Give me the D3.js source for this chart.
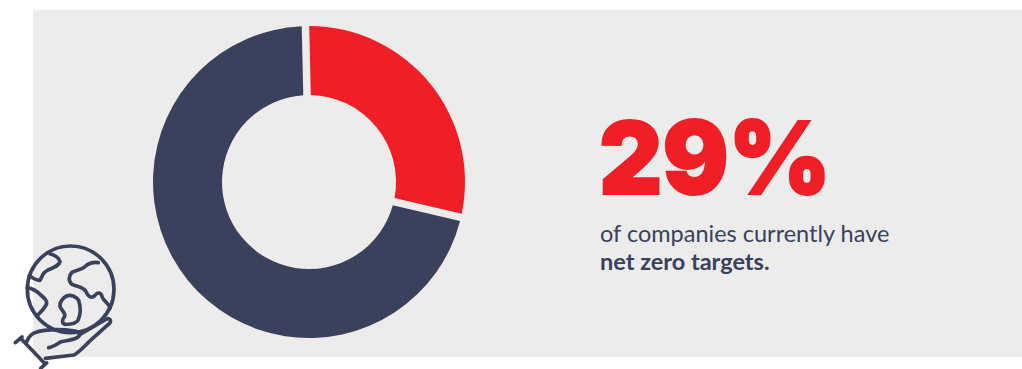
<!DOCTYPE html>
<html>
<head>
<meta charset="utf-8">
<script src="https://cdn.jsdelivr.net/npm/d3@7/dist/d3.min.js"></script>
<style>
  html, body { margin: 0; padding: 0; background: #fff; }
  svg { display: block; }
</style>
</head>
<body>
<svg id="chart" width="1022" height="369"></svg>
<script>
// Share of companies with and without net zero targets
const categories = ["With net zero targets", "Without net zero targets"];
const shares = [29, 71];
const sliceColors = ["#f01f27", "#3a415c"];

const headline = "29%";
const captionLead = "of companies currently have";
const captionBold = "net zero targets.";

const svg = d3.select("#chart");
const navy = "#3a415c";

svg.append("rect").attr("x", 33).attr("y", 10).attr("width", 989).attr("height", 347).attr("fill", "#ececec");

const cx = 309, cy = 182, outer = 156, inner = 87;
const donut = svg.append("g").attr("transform", `translate(${cx},${cy})`);

// Faint halo that sits behind the ring
donut.append("path")
  .attr("d", d3.arc()({ innerRadius: inner - 7, outerRadius: outer + 7, startAngle: 0, endAngle: 2 * Math.PI }))
  .attr("fill", "#eeecea");

const tilt = -1.3 * Math.PI / 180;
const pie = d3.pie().sort(null).startAngle(tilt).endAngle(tilt + 2 * Math.PI);
const arc = d3.arc().innerRadius(inner).outerRadius(outer).padRadius(outer).padAngle(7.5 / outer);

donut.selectAll("path.slice")
  .data(pie(shares))
  .join("path")
  .attr("class", "slice")
  .attr("d", arc)
  .attr("fill", (d, i) => sliceColors[i])
  .append("title").text((d, i) => `${categories[i]}: ${d.value}%`);

// Headline figure and caption
svg.append("text")
  .attr("x", 599).attr("y", 194)
  .attr("font-family", "Inter, 'Open Sans', sans-serif")
  .attr("font-weight", 900).attr("font-size", 101)
  .attr("textLength", 232).attr("lengthAdjust", "spacingAndGlyphs")
  .attr("stroke", sliceColors[0]).attr("stroke-width", 2).attr("stroke-linejoin", "miter")
  .attr("fill", sliceColors[0]).text(headline);

svg.append("text")
  .attr("x", 600).attr("y", 242)
  .attr("font-family", "Lato, sans-serif").attr("font-size", 23.5)
  .attr("fill", navy).text(captionLead);

svg.append("text")
  .attr("x", 600).attr("y", 270)
  .attr("font-family", "Lato, sans-serif").attr("font-size", 23.5).attr("font-weight", 700)
  .attr("fill", navy).text(captionBold);

// Globe resting on an open hand
const icon = svg.append("g")
  .attr("transform", "translate(0,231) scale(0.3333)")
  .attr("fill", "none").attr("stroke", navy)
  .attr("stroke-width", 11).attr("stroke-linecap", "round").attr("stroke-linejoin", "round");

icon.append("circle").attr("cx", 212).attr("cy", 175).attr("r", 130);

const iconPaths = [
  "M150,68 C165,72 178,82 180,92 C178,104 160,110 142,118 C128,124 126,138 120,148 C110,148 98,142 88,134",
  "M295,95 C280,92 268,96 258,104 C246,118 228,116 216,124 C206,134 204,150 216,160 C232,168 250,166 258,182 C264,196 274,204 284,194 C292,184 302,182 306,196 C310,212 324,210 330,232",
  "M82,170 C96,172 110,180 122,192 C132,200 142,208 140,218 C136,230 122,244 110,256",
  "M200,195 C190,200 178,212 180,226 C184,240 198,244 194,256 C186,266 184,278 196,280 C212,280 228,278 234,268 C242,250 242,226 236,208 C228,196 212,190 200,195 Z",
  "M80,332 C86,318 94,308 108,304 C124,298 150,296 170,296 C190,296 210,298 226,300 C238,304 242,312 234,318 C222,328 200,328 184,332 C172,338 160,348 146,350",
  "M240,310 L320,264 C328,260 334,268 330,276 L274,326 C258,340 240,362 222,372 L136,382",
  "M62,322 L135,398",
  "M46,335 L66,318",
  "M122,412 L140,396"
];
icon.selectAll("path").data(iconPaths).join("path").attr("d", d => d);
</script>
</body>
</html>
